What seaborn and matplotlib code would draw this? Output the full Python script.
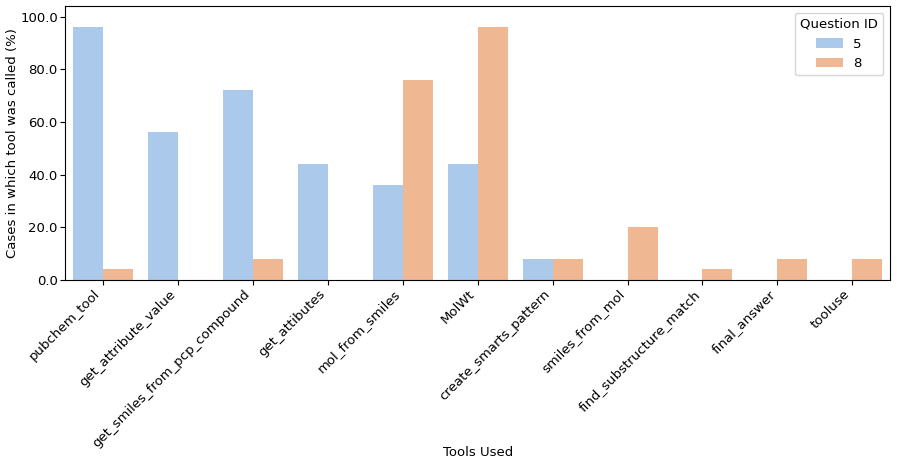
import pandas as pd
import matplotlib.pyplot as plt
import seaborn as sns
from matplotlib.ticker import FormatStrFormatter

tools = ['pubchem_tool', 'get_attribute_value', 'get_smiles_from_pcp_compound',
         'get_attibutes', 'mol_from_smiles', 'MolWt', 'create_smarts_pattern',
         'smiles_from_mol', 'find_substructure_match', 'final_answer', 'tooluse']
q5 = [96, 56, 72, 44, 36, 44, 8, 0, 0, 0, 0]
q8 = [4, 0, 8, 0, 76, 96, 8, 20, 4, 8, 8]

df = pd.DataFrame({
    'Tool': tools * 2,
    'Percent': q5 + q8,
    'Question ID': ['5'] * len(tools) + ['8'] * len(tools),
})

plt.rcParams['font.size'] = 9.5
fig, ax = plt.subplots(figsize=(8.97, 4.68), dpi=100)
sns.barplot(data=df, x='Tool', y='Percent', hue='Question ID', palette='pastel', ax=ax)
ax.set_ylim(0, 104)
ax.yaxis.set_major_formatter(FormatStrFormatter('%.1f'))
ax.set_xlabel('Tools Used', labelpad=-2.5)
ax.set_ylabel('Cases in which tool was called (%)', labelpad=1)
plt.xticks(rotation=45, ha='right')
ax.tick_params(axis='x', pad=2)
ax.tick_params(axis='y', pad=2)
ax.legend(title='Question ID', loc='upper right')
fig.subplots_adjust(left=0.073, right=0.992, top=0.987, bottom=0.402)
fig.savefig('out.png')
